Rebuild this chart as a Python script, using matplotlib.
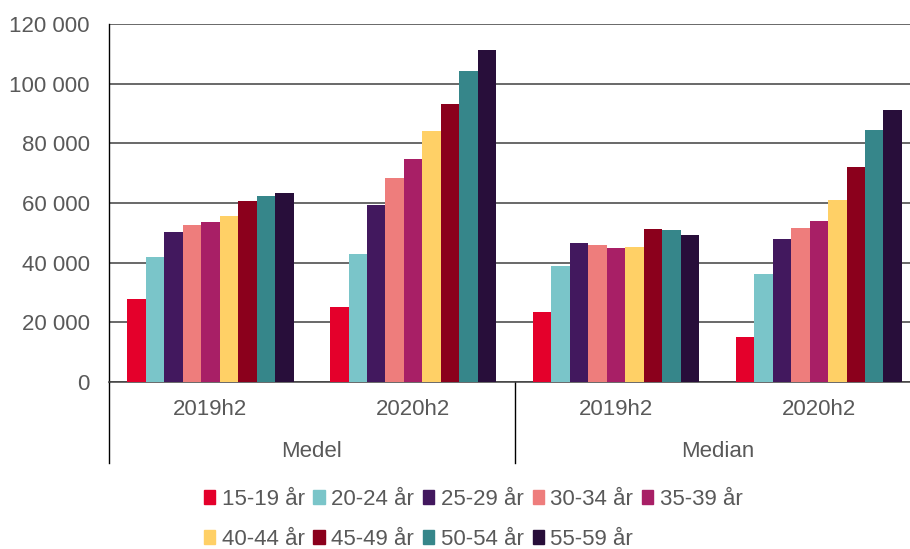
import matplotlib
matplotlib.use("Agg")
import matplotlib.pyplot as plt
from matplotlib.patches import Rectangle
import numpy as np

plt.rcParams['font.family'] = ['Liberation Sans', 'DejaVu Sans']

groups = ["Medel", "Median"]
periods = ["2019h2", "2020h2"]
age_groups = ["15-19 år", "20-24 år", "25-29 år", "30-34 år", "35-39 år",
              "40-44 år", "45-49 år", "50-54 år", "55-59 år"]
colors = ["#E4002B", "#7AC5C9", "#42185E", "#EE7D7C", "#A81F66",
          "#FFD066", "#8B001C", "#36868A", "#280E3A"]

# values per age group, order: Medel 2019h2, Medel 2020h2, Median 2019h2, Median 2020h2
v_15_19 = [27800, 25100, 23400, 15100]
v_20_24 = [41800, 42800, 38900, 36100]
v_25_29 = [50400, 59200, 46600, 47900]
v_30_34 = [52500, 68400, 45900, 51600]
v_35_39 = [53800, 74900, 44900, 54000]
v_40_44 = [55800, 84200, 45400, 61100]
v_45_49 = [60600, 93200, 51300, 72100]
v_50_54 = [62400, 104400, 51100, 84600]
v_55_59 = [63200, 111300, 49400, 91200]
series = [v_15_19, v_20_24, v_25_29, v_30_34, v_35_39,
          v_40_44, v_45_49, v_50_54, v_55_59]

yticks = [0, 20000, 40000, 60000, 80000, 100000, 120000]
ytick_labels = ["0", "20 000", "40 000", "60 000", "80 000", "100 000", "120 000"]

text_color = "#595959"
fs = 16

fig = plt.figure(figsize=(9.10, 5.49), dpi=100)
ax = fig.add_axes([0.1198, 0.3042, 0.8914, 0.652])

x = np.arange(4)
n = len(series)
total_w = 0.82
w = total_w / n
for i, (vals, c) in enumerate(zip(series, colors)):
    ax.bar(x - total_w / 2 + w * (i + 0.5), vals, width=w, color=c,
           label=age_groups[i], zorder=3, linewidth=0)

ax.set_xlim(-0.5, 3.5)
ax.set_ylim(0, 120000)
ax.set_yticks(yticks)
ax.set_yticklabels(ytick_labels, color=text_color, fontsize=fs)
ax.tick_params(axis='y', length=0, pad=14)
ax.set_xticks([])
ax.yaxis.grid(True, color="#404040", linewidth=1.1, zorder=0)
for s in ["top", "right"]:
    ax.spines[s].set_visible(False)
ax.spines["left"].set_color("#000000")
ax.spines["left"].set_linewidth(1.0)
ax.spines["bottom"].set_color("#404040")
ax.spines["bottom"].set_linewidth(1.1)

# category axis
labels_x = [periods[0], periods[1], periods[0], periods[1]]
for xi, lab in zip(x, labels_x):
    ax.text(xi, -0.076, lab, transform=ax.get_xaxis_transform(), ha='center',
            va='center', color=text_color, fontsize=fs)
for gi, g in enumerate(groups):
    ax.text(0.5 + 2 * gi, -0.195, g, transform=ax.get_xaxis_transform(), ha='center',
            va='center', color=text_color, fontsize=fs)
for xv in [-0.5, 1.5, 3.5]:
    ax.plot([xv, xv], [0, -0.226], transform=ax.get_xaxis_transform(),
            color="#000000", linewidth=1.0, clip_on=False)

# legend in row-major order (matplotlib fills columns first)
order = [0, 5, 1, 6, 2, 7, 3, 8, 4]
handles = [Rectangle((0, 0), 1, 1, color=colors[k]) for k in order]
labels = [age_groups[k] for k in order]
leg = fig.legend(handles, labels, loc='center', bbox_to_anchor=(0.52, 0.054),
                 ncol=5, frameon=False, fontsize=fs, handlelength=0.5,
                 handleheight=0.55, handletextpad=0.3, columnspacing=0.4,
                 labelspacing=0.85, borderpad=0)
for t in leg.get_texts():
    t.set_color(text_color)

fig.savefig("out.png", dpi=100)
